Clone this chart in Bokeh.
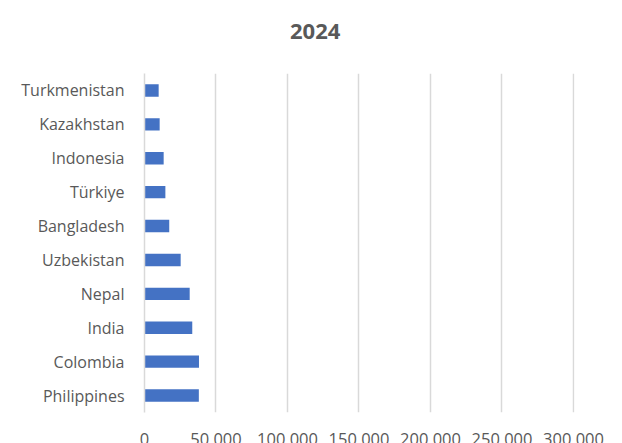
from bokeh.plotting import figure
from bokeh.models import Range1d, FactorRange, FixedTicker, Div
from bokeh.layouts import column
from bokeh.embed import file_html
from bokeh.resources import INLINE

# Data (top to bottom as shown in the chart)
countries = ["Turkmenistan", "Kazakhstan", "Indonesia", "Türkiye", "Bangladesh",
             "Uzbekistan", "Nepal", "India", "Colombia", "Philippines"]
values_2024 = [9900, 10600, 13400, 14600, 17300, 25300, 31600, 33400, 38100, 38000]
tick_values = [0, 50000, 100000, 150000, 200000, 250000, 300000]
tick_labels = ["0", "50 000", "100 000", "150 000", "200 000", "250 000", "300 000"]
chart_title = "2024"

factors = list(reversed(countries))

p = figure(width=614, height=393, output_backend="svg", toolbar_location=None,
           y_range=FactorRange(factors=factors), x_range=Range1d(0, 300700),
           min_border_left=144, min_border_right=40, min_border_top=31,
           min_border_bottom=23)
p.frame_width = 430
p.frame_height = 339

p.hbar(y=countries, right=values_2024, left=0, height=0.366,
       fill_color="#4472C4", line_color=None)

p.outline_line_color = None
p.background_fill_color = "white"
p.border_fill_color = "white"

# x axis
p.xaxis.ticker = FixedTicker(ticks=tick_values)
p.xaxis.major_label_overrides = {v: l for v, l in zip(tick_values, tick_labels)}
p.xaxis.axis_line_color = None
p.xaxis.major_tick_line_color = None
p.xaxis.minor_tick_line_color = None
p.xaxis.major_label_standoff = 8
p.xaxis.major_label_text_font = "Open Sans"
p.xaxis.major_label_text_font_size = "16.5px"
p.xaxis.major_label_text_color = "#595959"

# y axis
p.yaxis.axis_line_color = "#d9d9d9"
p.yaxis.axis_line_width = 1.5
p.yaxis.major_tick_line_color = None
p.yaxis.minor_tick_line_color = None
p.yaxis.major_label_standoff = 14
p.yaxis.major_label_text_font = "Open Sans"
p.yaxis.major_label_text_font_size = "16px"
p.yaxis.major_label_text_color = "#595959"

# grid
p.xgrid.grid_line_color = "#d9d9d9"
p.xgrid.grid_line_width = 1.5
p.ygrid.grid_line_color = None

# chart title above the plot
title = Div(text=chart_title, width=614, height=42, margin=(0, 0, 0, 0),
            styles={"font-family": "Open Sans", "font-weight": "bold",
                    "font-size": "22px", "line-height": "22px",
                    "color": "#595959", "padding-top": "19px",
                    "padding-left": "290px", "box-sizing": "border-box"})

layout = column(title, p, spacing=0)

open("out.html", "w").write(file_html(layout, INLINE))
